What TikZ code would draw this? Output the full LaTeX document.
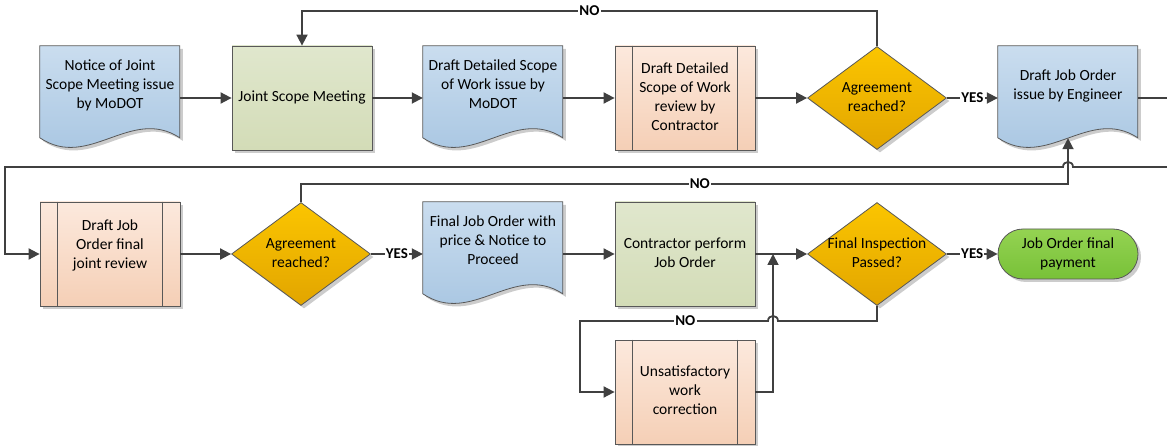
\documentclass[tikz,border=0pt]{standalone}
\usepackage{fontspec}
\setmainfont{Carlito}
\usetikzlibrary{arrows.meta,shapes.geometric,shadows,backgrounds}

\definecolor{docT}{RGB}{202,221,239}
\definecolor{docB}{RGB}{164,195,224}
\definecolor{grnT}{RGB}{224,231,205}
\definecolor{grnB}{RGB}{211,220,183}
\definecolor{pchT}{RGB}{252,233,221}
\definecolor{pchB}{RGB}{245,207,182}
\definecolor{decT}{RGB}{251,197,0}
\definecolor{decB}{RGB}{226,165,0}
\definecolor{trmT}{RGB}{148,211,82}
\definecolor{trmB}{RGB}{120,193,56}
\definecolor{edgec}{RGB}{88,88,88}
\definecolor{connc}{RGB}{64,64,64}

\newcommand\ctext[2][0pt]{\smash{\makebox[0pt]{\raisebox{#1}{\raisebox{-3.5pt}{\begin{tabular}{@{}c@{}}#2\end{tabular}}}}}}

\newcommand\docshape[1]{%
  \begin{pgfonlayer}{background}
  \begin{scope}[shift={(#1.north west)}]
    \fill[black,opacity=0.2] (3,3) -- (143,3) -- (143,95) .. controls (94,63) and (52,128) .. (3,95) -- cycle;
    \draw[edgec,line width=0.8pt,top color=docT,bottom color=docB] (0,0) -- (140,0) -- (140,92) .. controls (91,60) and (49,125) .. (0,92) -- cycle;
  \end{scope}
  \end{pgfonlayer}}

\newcommand\predlines[1]{%
  \draw[edgec,line width=0.8pt] ([xshift=18pt]#1.north west) -- ([xshift=18pt]#1.south west);
  \draw[edgec,line width=0.8pt] ([xshift=-18pt]#1.north east) -- ([xshift=-18pt]#1.south east);}

\tikzset{
  txtbase/.style={font=\fontsize{15.5}{19}\selectfont, inner sep=0pt, text=black},
  shapebox/.style={txtbase, rectangle, minimum width=140pt, minimum height=104pt},
  shd/.style={drop shadow={shadow xshift=3pt,shadow yshift=-3pt,opacity=0.2,fill=black}},
  docbox/.style={shapebox},
  procbox/.style={shapebox, draw=edgec, line width=0.8pt, top color=grnT, bottom color=grnB, shd},
  predbox/.style={shapebox, draw=edgec, line width=0.8pt, top color=pchT, bottom color=pchB, shd},
  decision/.style={txtbase, diamond, draw=edgec, line width=0.8pt, top color=decT, bottom color=decB, minimum width=139pt, minimum height=103pt, shd},
  terminal/.style={txtbase, rectangle, rounded corners=25pt, draw=edgec, line width=0.8pt, top color=trmT, bottom color=trmB, minimum width=140pt, minimum height=50pt, shd},
  conline/.style={draw=connc, line width=1.8pt},
  flow/.style={conline, -{Triangle[length=11pt,width=11pt]}},
  lbl/.style={font=\bfseries\fontsize{15}{16}\selectfont, fill=white, inner sep=1.2pt, text=black}
}

\begin{document}
\begin{tikzpicture}[x=1pt,y=-1pt]
\useasboundingbox (0,0) rectangle (1167,446);

% row 1
\node[docbox] (n1) at (110,98) {\ctext[12pt]{Notice of Joint\\Scope Meeting issue\\by MoDOT}};
\docshape{n1}
\node[procbox] (n2) at (302,98) {\ctext{Joint Scope Meeting}};
\node[docbox] (n3) at (493,98) {\ctext[12pt]{Draft Detailed Scope\\of Work issue by\\MoDOT}};
\docshape{n3}
\node[predbox] (n4) at (685,98) {\ctext{Draft Detailed\\Scope of Work\\review by\\Contractor}};
\predlines{n4}
\node[decision] (d1) at (877,98) {\ctext{Agreement\\reached?}};
\node[docbox] (n6) at (1068,98) {\ctext[12pt]{Draft Job Order\\issue by Engineer}};
\docshape{n6}

% row 2
\node[predbox] (n7) at (110,254) {\ctext[8pt]{Draft Job\\Order final\\joint review}};
\predlines{n7}
\node[decision] (d2) at (301,254) {\ctext{Agreement\\reached?}};
\node[docbox] (n8) at (493,254) {\ctext[12pt]{Final Job Order with\\price \& Notice to\\Proceed}};
\docshape{n8}
\node[procbox] (n9) at (685,254) {\ctext{Contractor perform\\Job Order}};
\node[decision] (d3) at (877,254) {\ctext{Final Inspection\\Passed?}};
\node[terminal] (t1) at (1068,254) {\ctext{Job Order final\\payment}};

% row 3
\node[predbox] (n10) at (685,392) {\ctext{Unsatisfactory\\work\\correction}};
\predlines{n10}

\coordinate (r1) at (1167,98);
\coordinate (r2) at (1167,167);
\coordinate (j) at (773,254);

% connectors row 1
\draw[flow] (n1.east) -- (n2.west);
\draw[flow] (n2.east) -- (n3.west);
\draw[flow] (n3.east) -- (n4.west);
\draw[flow] (n4.east) -- (d1.west);
\draw[flow] (d1.east) -- node[lbl]{YES} (n6.west);
\draw[flow] (d1.north) -- ++(0,-35) -| node[lbl,pos=0.25]{NO} (n2.north);
\draw[conline] (n6.east) -- (r1);

% wrap to row 2
\draw[flow] (r2) -- (1073,167) .. controls (1073,160.3) and (1063,160.3) .. (1063,167) -- (5,167) |- (n7.west);

% connectors row 2
\draw[flow] (n7.east) -- (d2.west);
\draw[flow] (d2.east) -- node[lbl]{YES} (n8.west);
\draw[flow] (d2.north) -- ++(0,-18) -| node[lbl,pos=0.26]{NO} ([yshift=12pt]n6.south);
\draw[flow] (n8.east) -- (n9.west);
\draw[flow] (n9.east) -- (d3.west);
\draw[flow] (d3.east) -- node[lbl]{YES} (t1.west);

% inspection loop
\draw[flow] (d3.south) |- (778,321) .. controls (778,314.3) and (768,314.3) .. (768,321) -- node[lbl,pos=0.44]{NO} (580,321) |- (n10.west);
\draw[flow] (n10.east) -| (j);
\end{tikzpicture}
\end{document}
